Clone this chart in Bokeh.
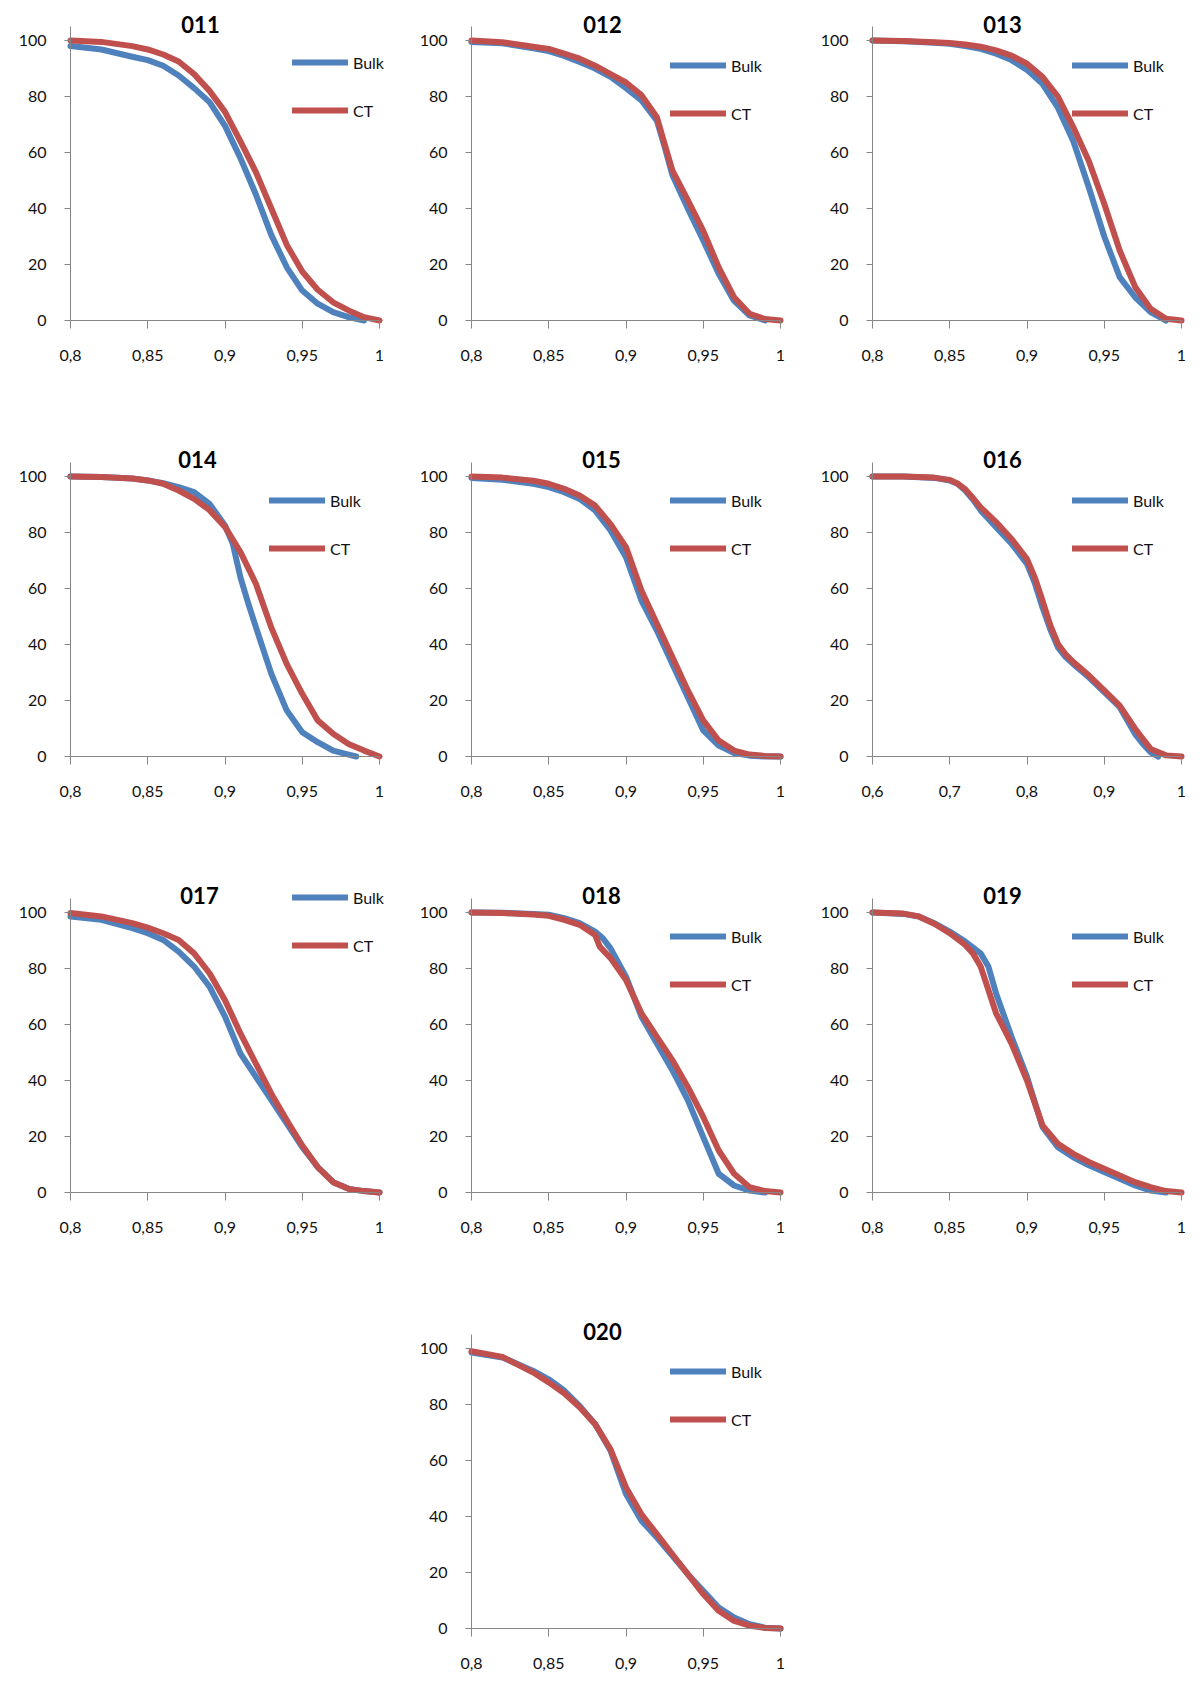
from bokeh.plotting import figure
from bokeh.models import Range1d, FixedTicker, CustomJSTickFormatter, Label, Legend, LegendItem, Spacer
from bokeh.layouts import row, column
from bokeh.embed import file_html
from bokeh.resources import INLINE

BULK_COLOR = "#4F81BD"
CT_COLOR = "#C0504D"
AXIS_COLOR = "#868686"
TEXT_COLOR = "#111111"
FONT = "Lato"

# ---------------- data ----------------
X = [0.80, 0.82, 0.84, 0.85, 0.86, 0.87, 0.88, 0.89, 0.90, 0.91, 0.92, 0.93, 0.94, 0.95, 0.96, 0.97, 0.98, 0.99, 1.00]
X_TICKS = [0.8, 0.85, 0.9, 0.95, 1.0]
X_TICKS_016 = [0.6, 0.7, 0.8, 0.9, 1.0]
Y_TICKS = [0, 20, 40, 60, 80, 100]

x_bulk_011 = X[:-1]
bulk_011 = [98.0, 96.8, 94.2, 93.0, 91.0, 87.5, 83.0, 78.0, 69.5, 58.0, 45.0, 30.5, 19.0, 10.7, 6.0, 3.0, 1.2, 0.0]
x_ct_011 = X
ct_011 = [100.0, 99.5, 98.0, 96.8, 95.0, 92.5, 88.0, 82.0, 74.5, 64.0, 53.0, 40.0, 27.0, 17.5, 11.0, 6.5, 3.6, 1.2, 0.0]

x_bulk_012 = [0.80, 0.82, 0.84, 0.85, 0.86, 0.87, 0.88, 0.89, 0.90, 0.91, 0.92, 0.925, 0.93, 0.94, 0.95, 0.96, 0.97, 0.98, 0.99]
bulk_012 = [99.5, 99.0, 97.2, 96.2, 94.5, 92.3, 90.0, 87.0, 83.0, 78.6, 71.4, 62.0, 52.0, 40.0, 28.6, 16.7, 7.0, 1.8, 0.0]
x_ct_012 = [0.80, 0.82, 0.84, 0.85, 0.86, 0.87, 0.88, 0.89, 0.90, 0.91, 0.92, 0.925, 0.93, 0.94, 0.95, 0.96, 0.97, 0.98, 0.99, 1.00]
ct_012 = [100.0, 99.4, 97.8, 97.0, 95.3, 93.5, 91.0, 88.0, 85.0, 80.5, 72.6, 63.0, 53.6, 43.0, 32.0, 19.0, 8.3, 2.4, 0.5, 0.0]

x_bulk_013 = X[:-1]
bulk_013 = [100.0, 99.7, 99.2, 98.8, 98.0, 97.0, 95.3, 93.0, 89.5, 84.5, 76.0, 64.0, 47.6, 30.0, 15.5, 8.3, 3.0, 0.0]
x_ct_013 = X
ct_013 = [100.0, 99.8, 99.4, 99.1, 98.6, 97.8, 96.5, 94.6, 91.7, 87.0, 80.0, 69.0, 57.0, 41.7, 25.0, 12.0, 4.2, 0.6, 0.0]

x_bulk_014 = [0.80, 0.82, 0.84, 0.85, 0.86, 0.87, 0.88, 0.89, 0.90, 0.905, 0.91, 0.915, 0.92, 0.93, 0.94, 0.95, 0.96, 0.97, 0.98, 0.985]
bulk_014 = [100.0, 99.8, 99.3, 98.6, 97.6, 96.2, 94.4, 90.2, 82.5, 76.0, 64.0, 54.8, 46.2, 29.5, 16.4, 8.7, 5.1, 2.1, 0.7, 0.0]
x_ct_014 = X
ct_014 = [100.0, 99.8, 99.3, 98.6, 97.4, 95.0, 92.0, 88.0, 82.0, 73.0, 61.7, 46.0, 33.0, 22.4, 12.9, 8.1, 4.5, 2.1, 0.0]

x_bulk_015 = X
bulk_015 = [99.5, 98.8, 97.4, 96.2, 94.4, 92.0, 87.9, 80.7, 71.2, 55.7, 45.0, 33.0, 21.2, 9.3, 3.9, 1.2, 0.3, 0.0, 0.0]
x_ct_015 = X
ct_015 = [100.0, 99.6, 98.5, 97.4, 95.6, 93.2, 89.6, 83.0, 74.8, 59.3, 47.4, 35.5, 23.6, 12.9, 5.7, 2.1, 0.7, 0.2, 0.0]

x_bulk_016 = [0.60, 0.64, 0.68, 0.70, 0.71, 0.72, 0.73, 0.74, 0.76, 0.78, 0.80, 0.81, 0.82, 0.83, 0.84, 0.85, 0.86, 0.88, 0.90, 0.92, 0.94, 0.95, 0.96, 0.97]
bulk_016 = [100.0, 100.0, 99.5, 98.6, 97.4, 95.0, 91.8, 87.9, 81.9, 76.0, 68.8, 62.0, 53.3, 45.5, 39.0, 35.5, 33.0, 28.3, 23.0, 17.6, 8.0, 4.5, 1.5, 0.0]
x_ct_016 = [0.60, 0.64, 0.68, 0.70, 0.71, 0.72, 0.73, 0.74, 0.76, 0.78, 0.80, 0.81, 0.82, 0.83, 0.84, 0.85, 0.86, 0.88, 0.90, 0.92, 0.94, 0.95, 0.96, 0.98, 1.00]
ct_016 = [100.0, 100.0, 99.6, 98.8, 97.5, 95.5, 92.3, 89.0, 83.7, 77.7, 70.5, 64.0, 55.7, 47.0, 40.2, 36.5, 33.7, 29.0, 23.6, 18.2, 9.9, 6.3, 2.7, 0.4, 0.0]

x_bulk_017 = X
bulk_017 = [98.6, 97.4, 94.4, 92.6, 90.2, 86.0, 80.7, 73.5, 62.8, 49.6, 41.3, 33.0, 24.6, 16.2, 9.1, 3.7, 1.3, 0.5, 0.0]
x_ct_017 = X
ct_017 = [99.8, 98.6, 96.2, 94.6, 92.6, 90.2, 85.4, 78.3, 68.7, 56.8, 46.0, 35.3, 25.8, 16.8, 9.1, 3.7, 1.3, 0.5, 0.0]

x_bulk_018 = [0.80, 0.82, 0.84, 0.85, 0.86, 0.87, 0.88, 0.885, 0.89, 0.90, 0.91, 0.92, 0.93, 0.94, 0.95, 0.96, 0.97, 0.98, 0.99]
bulk_018 = [100.0, 99.9, 99.5, 99.2, 98.0, 96.2, 93.2, 90.8, 87.2, 77.1, 62.8, 53.2, 43.7, 33.0, 19.8, 6.7, 2.5, 0.7, 0.0]
x_ct_018 = [0.80, 0.82, 0.84, 0.85, 0.86, 0.87, 0.88, 0.883, 0.89, 0.90, 0.91, 0.92, 0.93, 0.94, 0.95, 0.96, 0.97, 0.98, 0.99, 1.00]
ct_018 = [100.0, 99.8, 99.3, 98.8, 97.4, 95.6, 92.0, 87.8, 83.7, 75.9, 64.0, 55.6, 47.3, 37.7, 27.0, 15.0, 6.7, 1.9, 0.5, 0.0]

x_bulk_019 = [0.80, 0.82, 0.83, 0.84, 0.85, 0.86, 0.87, 0.875, 0.88, 0.89, 0.90, 0.91, 0.92, 0.93, 0.94, 0.95, 0.96, 0.97, 0.98, 0.99]
bulk_019 = [100.0, 99.5, 98.6, 96.2, 93.2, 89.6, 85.4, 80.7, 71.1, 55.6, 41.3, 23.4, 16.2, 12.6, 9.7, 7.3, 4.9, 2.5, 0.7, 0.0]
x_ct_019 = [0.80, 0.82, 0.83, 0.84, 0.85, 0.86, 0.865, 0.87, 0.88, 0.89, 0.90, 0.91, 0.92, 0.93, 0.94, 0.95, 0.96, 0.97, 0.98, 0.99, 1.00]
ct_019 = [100.0, 99.6, 98.6, 96.0, 92.6, 88.4, 85.4, 80.7, 64.0, 53.2, 40.0, 24.0, 17.4, 13.8, 10.9, 8.5, 6.1, 3.7, 1.9, 0.5, 0.0]

x_bulk_020 = X
bulk_020 = [98.6, 96.8, 92.0, 89.0, 85.0, 79.5, 73.0, 63.5, 48.0, 38.5, 32.5, 26.0, 19.4, 13.5, 7.5, 3.9, 1.5, 0.3, 0.0]
x_ct_020 = X
ct_020 = [99.0, 97.0, 91.4, 87.9, 84.0, 79.0, 73.0, 64.0, 50.4, 40.8, 33.7, 26.5, 19.4, 12.3, 6.3, 2.7, 1.0, 0.2, 0.0]

# ---------------- layout settings (pixels) ----------------
FRAME_W = 309          # width of the plotted x extent
PX_PER_Y = 2.8         # pixels per y unit
Y100_PX = 40           # y=100 position from figure top
Y_AXIS_TOP = 105
COL_W = [400, 400, 396]
COL_LEFT = [70, 71, 72]  # position of the y axis inside each figure

fmt = CustomJSTickFormatter(code="return tick.toString().replace('.', ',');")


def make_panel(name, xb, yb, xc, yc, col, H, x0, xticks, leg_x, leg_c, t_x, t_y):
    W = COL_W[col]
    left = COL_LEFT[col]
    span = 1.0 - x0
    upp = span / FRAME_W
    y0_px = Y100_PX + 100 * PX_PER_Y
    p = figure(width=W, height=H,
               x_range=Range1d(x0 - left * upp, 1.0 + (W - left - FRAME_W) * upp),
               y_range=Range1d(-(H - y0_px) / PX_PER_Y, 100 + Y100_PX / PX_PER_Y),
               output_backend="svg", toolbar_location=None,
               min_border_left=0, min_border_right=0, min_border_top=0, min_border_bottom=0)
    p.outline_line_color = None
    p.grid.visible = False
    p.background_fill_color = "white"
    p.border_fill_color = "white"

    p.xaxis.ticker = FixedTicker(ticks=xticks)
    p.xaxis.formatter = fmt
    p.xaxis.fixed_location = 0
    p.xaxis.bounds = (x0, 1.0)
    p.yaxis.ticker = FixedTicker(ticks=Y_TICKS)
    p.yaxis.fixed_location = x0
    p.yaxis.bounds = (0, Y_AXIS_TOP)
    for ax in (p.xaxis, p.yaxis):
        ax.axis_line_color = AXIS_COLOR
        ax.axis_line_width = 1
        ax.major_tick_line_color = AXIS_COLOR
        ax.major_tick_in = 0
        ax.minor_tick_line_color = None
        ax.major_label_text_font = FONT
        ax.major_label_text_font_size = "16px"
        ax.major_label_text_color = TEXT_COLOR
    p.xaxis.major_tick_out = 8
    p.xaxis.major_label_standoff = 21
    p.yaxis.major_tick_out = 6
    p.yaxis.major_label_standoff = 18

    rb = p.line(xb, yb, line_color=BULK_COLOR, line_width=6, line_cap="round", line_join="round")
    rc = p.line(xc, yc, line_color=CT_COLOR, line_width=6, line_cap="round", line_join="round")

    legend = Legend(items=[LegendItem(label="Bulk", renderers=[rb]),
                           LegendItem(label="CT", renderers=[rc])],
                    location=(leg_x, H - (leg_c + 59)), orientation="vertical",
                    padding=0, margin=0, spacing=26,
                    glyph_width=56, glyph_height=22, label_height=22, label_standoff=5,
                    label_text_font=FONT, label_text_font_size="16px", label_text_color=TEXT_COLOR,
                    border_line_color=None, background_fill_alpha=0)
    p.add_layout(legend)

    p.add_layout(Label(x=t_x, y=H - t_y, x_units="screen", y_units="screen",
                       text=name, text_align="center", text_baseline="middle",
                       text_font=FONT, text_font_style="bold", text_font_size="22px",
                       text_color="black"))
    return p


H = 436
H_LAST = 370
p011 = make_panel("011", x_bulk_011, bulk_011, x_ct_011, ct_011, 0, H, 0.8, X_TICKS, 292, 62, 200, 24)
p012 = make_panel("012", x_bulk_012, bulk_012, x_ct_012, ct_012, 1, H, 0.8, X_TICKS, 270, 65, 202, 24)
p013 = make_panel("013", x_bulk_013, bulk_013, x_ct_013, ct_013, 2, H, 0.8, X_TICKS, 272, 65, 202, 24)
p014 = make_panel("014", x_bulk_014, bulk_014, x_ct_014, ct_014, 0, H, 0.8, X_TICKS, 269, 64, 197, 23)
p015 = make_panel("015", x_bulk_015, bulk_015, x_ct_015, ct_015, 1, H, 0.8, X_TICKS, 270, 64, 201, 23)
p016 = make_panel("016", x_bulk_016, bulk_016, x_ct_016, ct_016, 2, H, 0.6, X_TICKS_016, 272, 64, 202, 23)
p017 = make_panel("017", x_bulk_017, bulk_017, x_ct_017, ct_017, 0, H, 0.8, X_TICKS, 292, 25, 199, 23)
p018 = make_panel("018", x_bulk_018, bulk_018, x_ct_018, ct_018, 1, H, 0.8, X_TICKS, 270, 64, 201, 23)
p019 = make_panel("019", x_bulk_019, bulk_019, x_ct_019, ct_019, 2, H, 0.8, X_TICKS, 272, 64, 202, 23)
p020 = make_panel("020", x_bulk_020, bulk_020, x_ct_020, ct_020, 1, H_LAST, 0.8, X_TICKS, 270, 63, 202, 23)

layout = column(
    row(p011, p012, p013),
    row(p014, p015, p016),
    row(p017, p018, p019),
    row(Spacer(width=400, height=H_LAST), p020),
)

open("out.html", "w").write(file_html(layout, INLINE))
